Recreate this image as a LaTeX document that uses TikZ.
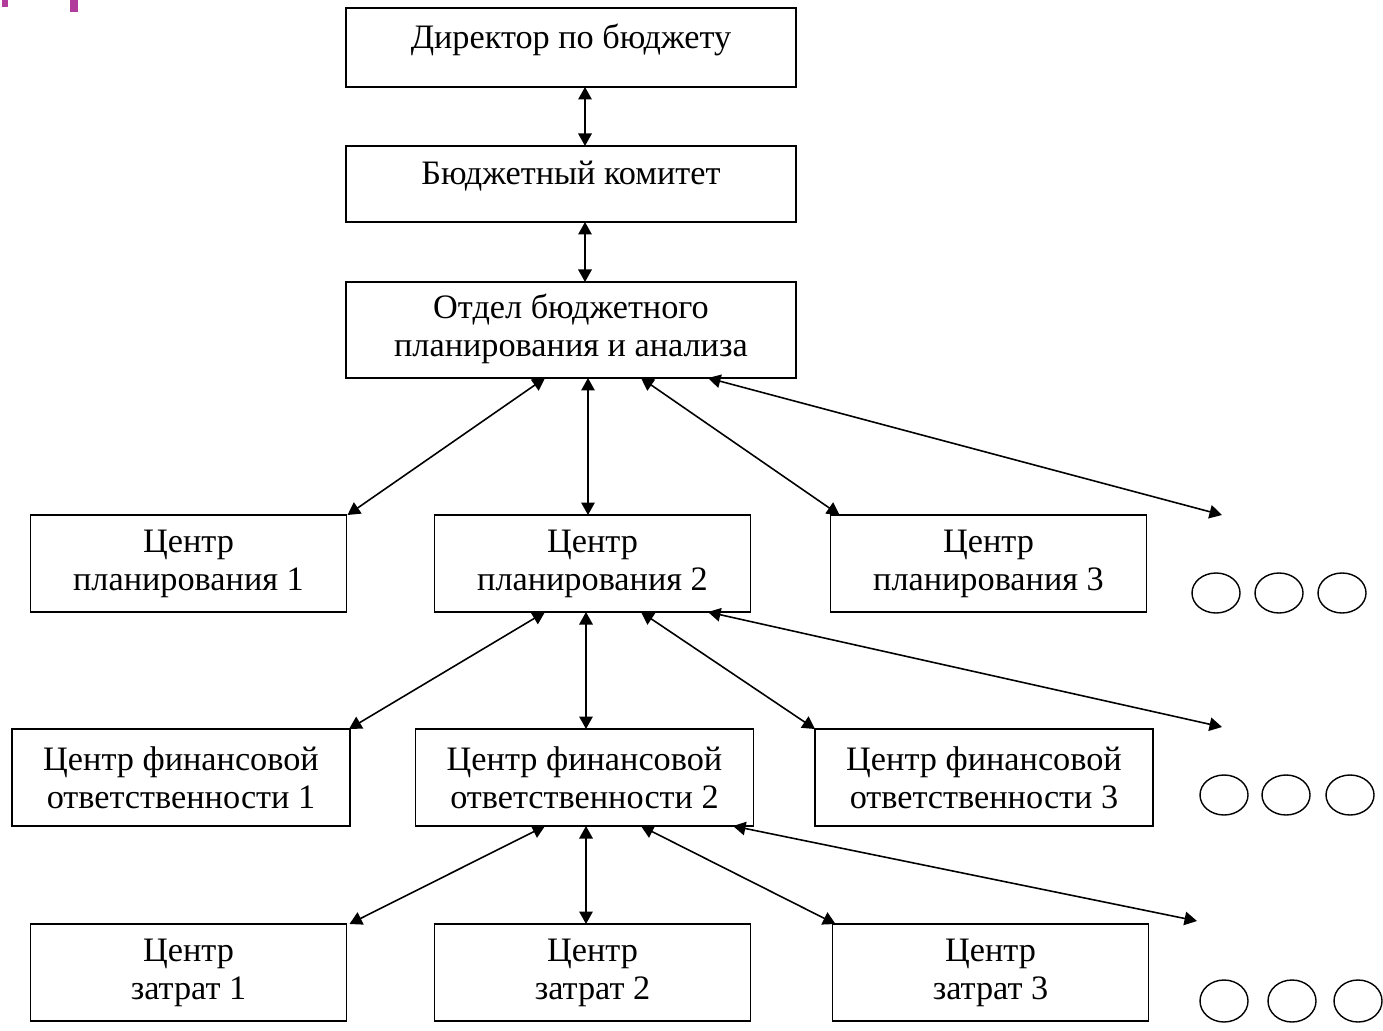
\documentclass[tikz,border=0pt]{standalone}
\usepackage{fontspec}
\setmainfont{Liberation Serif}
\usepackage{tikz}
\usetikzlibrary{arrows.meta,positioning}
\definecolor{slidemag}{HTML}{B13C9C}
\tikzset{
  obox/.style={draw=black, line width=1.1pt, align=center, inner sep=0pt, outer sep=0pt, font=\fontsize{19.5}{21.6}\selectfont},
  topbox/.style={obox, minimum width=9cm, text depth=0.45cm},
  cbox/.style={obox, minimum width=6.32cm, minimum height=1.94cm},
  fbox/.style={obox, minimum width=6.76cm, minimum height=1.94cm},
  darr/.style={{Triangle[length=2.5mm,width=2.7mm]}-{Triangle[length=2.5mm,width=2.7mm]}, line width=0.9pt},
  dot/.style={draw=black, line width=0.8pt, fill=white}
}
\begin{document}
\begin{tikzpicture}
\useasboundingbox (0,0) rectangle (27.66,-20.62);
\fill[slidemag] (0.04,0) rectangle (0.16,-0.14);
\fill[slidemag] (1.4,0) rectangle (1.56,-0.24);
% top of the hierarchy
\node[topbox, minimum height=1.58cm] (dir) at (11.42,-0.95) {Директор по бюджету};
\node[topbox, minimum height=1.52cm] (com) at (11.42,-3.68) {Бюджетный комитет};
\node[obox, minimum width=9cm, minimum height=1.92cm, text depth=0.2cm] (otd) at (11.42,-6.6) {Отдел бюджетного\\планирования и анализа};
% planning centres
\node[cbox] (plan1) at (3.77,-11.27) {Центр\\планирования 1};
\node[cbox] (plan2) at (11.85,-11.27) {Центр\\планирования 2};
\node[cbox] (plan3) at (19.77,-11.27) {Центр\\планирования 3};
% financial responsibility centres
\node[fbox] (cfo1) at (3.62,-15.55) {Центр финансовой\\ответственности 1};
\node[fbox] (cfo2) at (11.69,-15.55) {Центр финансовой\\ответственности 2};
\node[fbox] (cfo3) at (19.68,-15.55) {Центр финансовой\\ответственности 3};
% cost centres
\node[cbox] (cost1) at (3.77,-19.45) {Центр\\затрат 1};
\node[cbox] (cost2) at (11.85,-19.45) {Центр\\затрат 2};
\node[cbox] (cost3) at (19.81,-19.45) {Центр\\затрат 3};
\coordinate (more1) at (24.44,-10.3);
\coordinate (more2) at (24.44,-14.54);
\coordinate (more3) at (23.94,-18.42);
\draw[darr] ([xshift=0.28cm]dir.south) -- ([xshift=0.28cm]com.north);
\draw[darr] ([xshift=0.28cm]com.south) -- ([xshift=0.28cm]otd.north);
\draw[darr] ([xshift=-0.52cm]otd.south) -- ([xshift=0.02cm]plan1.north east);
\draw[darr] ([xshift=0.34cm]otd.south) -- ([xshift=-0.09cm]plan2.north);
\draw[darr] ([xshift=1.4cm]otd.south) -- ([xshift=0.18cm]plan3.north west);
\draw[darr] ([xshift=2.74cm]otd.south) -- (more1);
\draw[darr] ([xshift=-0.95cm]plan2.south) -- ([xshift=-0.02cm]cfo1.north east);
\draw[darr] ([xshift=-0.13cm]plan2.south) -- ([xshift=0.03cm]cfo2.north);
\draw[darr] ([xshift=0.97cm]plan2.south) -- (cfo3.north west);
\draw[darr] ([xshift=2.31cm]plan2.south) -- (more2);
\draw[darr] ([xshift=-0.79cm]cfo2.south) -- ([xshift=0.06cm]cost1.north east);
\draw[darr] ([xshift=0.03cm]cfo2.south) -- ([xshift=-0.13cm]cost2.north);
\draw[darr] ([xshift=1.13cm]cfo2.south) -- ([xshift=0.06cm]cost3.north west);
\draw[darr] ([xshift=2.97cm]cfo2.south) -- (more3);
% ellipsis circles
\draw[dot] (24.32,-11.86) ellipse (0.48cm and 0.4cm);
\draw[dot] (25.58,-11.86) ellipse (0.48cm and 0.4cm);
\draw[dot] (26.84,-11.86) ellipse (0.48cm and 0.4cm);
\draw[dot] (24.48,-15.9) ellipse (0.48cm and 0.4cm);
\draw[dot] (25.72,-15.9) ellipse (0.48cm and 0.4cm);
\draw[dot] (27.0,-15.9) ellipse (0.48cm and 0.4cm);
\draw[dot] (24.48,-20.02) ellipse (0.48cm and 0.42cm);
\draw[dot] (25.84,-20.02) ellipse (0.48cm and 0.42cm);
\draw[dot] (27.16,-20.02) ellipse (0.48cm and 0.42cm);
\end{tikzpicture}
\end{document}
